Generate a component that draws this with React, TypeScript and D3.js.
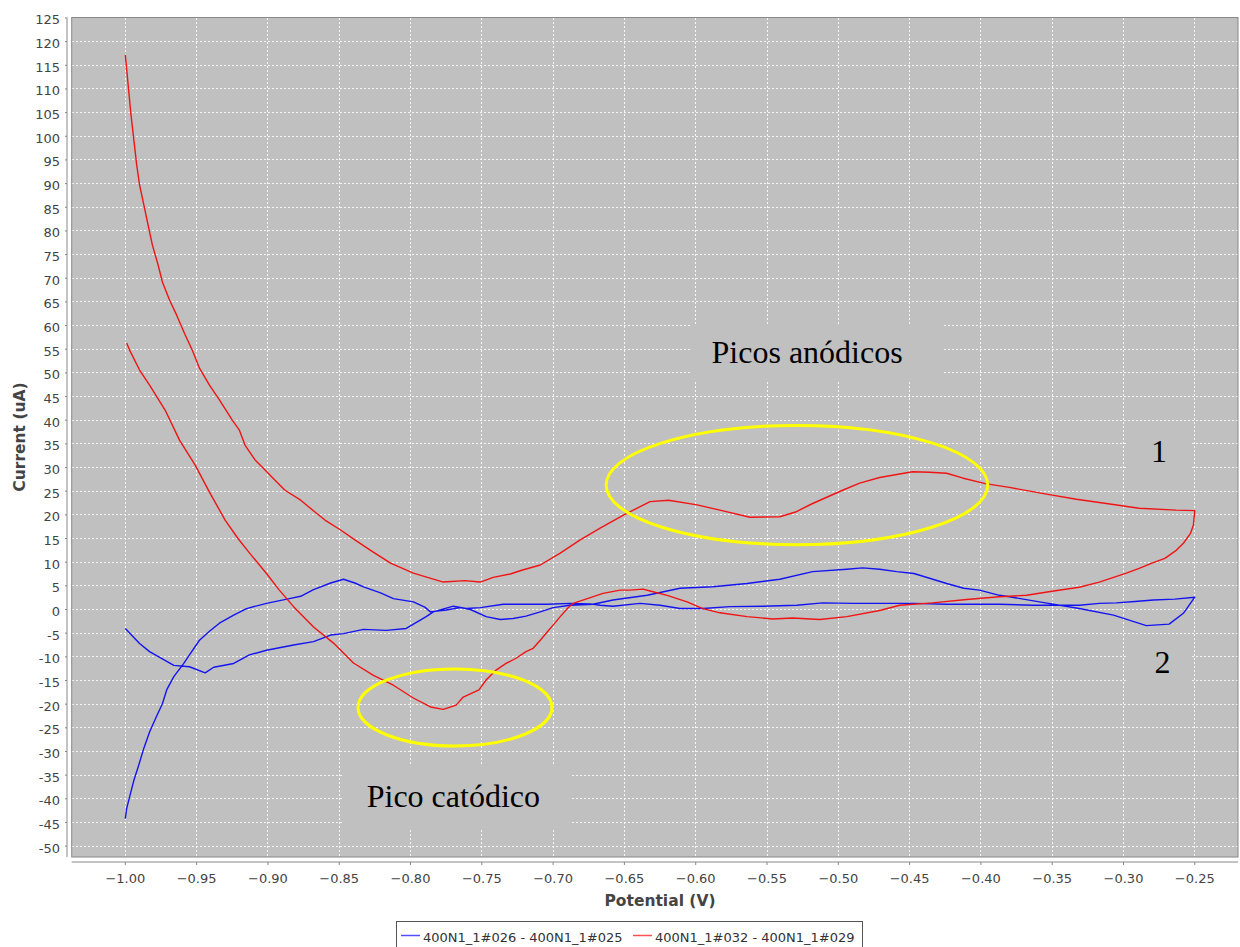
import React, { useRef, useEffect } from 'react';
import * as d3 from 'd3';

type Pt = [number, number]; // [potential V, current uA]

// 400N1_1#032 - 400N1_1#029 (red): forward sweep then return sweep
const redCurve: Pt[] = [
  [-1.000, 117.2], [-0.998, 110.8], [-0.996, 104.5], [-0.994, 99.2], [-0.992, 93.9],
  [-0.990, 89.7], [-0.987, 85.5], [-0.984, 81.2], [-0.981, 77.0], [-0.977, 72.8],
  [-0.974, 69.2], [-0.969, 65.4], [-0.964, 62.2], [-0.958, 58.0], [-0.953, 54.8],
  [-0.948, 51.0], [-0.941, 47.4], [-0.934, 44.3], [-0.925, 40.0], [-0.920, 37.9],
  [-0.916, 34.7], [-0.909, 31.6], [-0.902, 29.5], [-0.895, 27.3], [-0.888, 25.2],
  [-0.877, 23.1], [-0.867, 20.6], [-0.860, 18.9], [-0.849, 16.8], [-0.839, 14.7],
  [-0.828, 12.5], [-0.814, 9.8], [-0.798, 7.7], [-0.777, 5.8], [-0.762, 6.1],
  [-0.751, 5.8], [-0.742, 6.8], [-0.730, 7.5], [-0.722, 8.3], [-0.709, 9.4],
  [-0.695, 11.9], [-0.681, 14.7], [-0.667, 17.2], [-0.651, 19.9], [-0.632, 22.8],
  [-0.619, 23.1], [-0.599, 22.1], [-0.583, 21.0], [-0.562, 19.5], [-0.541, 19.6],
  [-0.530, 20.6], [-0.518, 22.4], [-0.497, 25.2], [-0.485, 26.7], [-0.471, 27.9],
  [-0.448, 29.1], [-0.436, 29.0], [-0.424, 28.8], [-0.413, 27.8], [-0.397, 26.6],
  [-0.380, 25.8], [-0.356, 24.5], [-0.333, 23.3], [-0.312, 22.4], [-0.289, 21.4],
  [-0.263, 21.0], [-0.250, 20.9],
  [-0.251, 17.8], [-0.253, 16.1], [-0.258, 14.0], [-0.263, 12.5], [-0.271, 10.8],
  [-0.280, 9.8], [-0.289, 8.7], [-0.298, 7.7], [-0.317, 5.8], [-0.331, 4.7],
  [-0.349, 3.9], [-0.368, 3.0], [-0.387, 2.7], [-0.410, 2.1], [-0.434, 1.4],
  [-0.457, 0.9], [-0.471, -0.2], [-0.494, -1.5], [-0.513, -2.1], [-0.532, -1.8],
  [-0.546, -2.0], [-0.564, -1.5], [-0.583, -0.7], [-0.595, 0.2], [-0.606, 1.6],
  [-0.620, 3.0], [-0.632, 3.9], [-0.637, 4.3], [-0.646, 4.1], [-0.653, 4.1],
  [-0.665, 3.4], [-0.676, 2.3], [-0.686, 1.3], [-0.690, 0.2], [-0.695, -1.5],
  [-0.700, -3.3], [-0.704, -4.7], [-0.709, -6.5], [-0.714, -8.2], [-0.719, -8.9],
  [-0.726, -10.3], [-0.733, -11.4], [-0.740, -12.8], [-0.747, -14.9], [-0.752, -17.0],
  [-0.763, -18.5], [-0.768, -20.2], [-0.777, -21.1], [-0.786, -20.6], [-0.798, -18.7],
  [-0.812, -16.0], [-0.826, -13.9], [-0.840, -11.3], [-0.854, -7.1], [-0.868, -3.7],
  [-0.882, 0.6], [-0.892, 4.1], [-0.901, 7.6], [-0.912, 11.6], [-0.921, 15.0],
  [-0.930, 18.9], [-0.941, 24.8], [-0.951, 30.5], [-0.962, 35.8], [-0.972, 42.1],
  [-0.983, 47.4], [-0.990, 50.6], [-0.997, 54.8], [-0.999, 56.3],
];

// 400N1_1#026 - 400N1_1#025 (blue)
const blueCurve: Pt[] = [
  [-1.000, -44.2], [-0.999, -42.0], [-0.997, -39.6], [-0.994, -36.1], [-0.991, -33.3],
  [-0.987, -29.3], [-0.983, -25.9], [-0.978, -22.5], [-0.974, -19.9], [-0.971, -17.0],
  [-0.966, -14.2], [-0.959, -11.4], [-0.955, -9.6], [-0.948, -6.5], [-0.941, -4.6],
  [-0.934, -2.9], [-0.924, -1.2], [-0.915, 0.2], [-0.901, 1.3], [-0.885, 2.3],
  [-0.877, 2.8], [-0.868, 4.2], [-0.856, 5.6], [-0.847, 6.4], [-0.839, 5.6],
  [-0.833, 4.8], [-0.821, 3.5], [-0.812, 2.3], [-0.798, 1.6], [-0.790, 0.5],
  [-0.786, -0.5], [-0.775, -0.1], [-0.765, 0.4], [-0.758, 0.0], [-0.747, -1.5],
  [-0.737, -2.1], [-0.728, -1.9], [-0.719, -1.4], [-0.709, -0.5], [-0.700, 0.4],
  [-0.688, 0.9], [-0.672, 1.1], [-0.658, 2.0], [-0.634, 3.0], [-0.611, 4.5],
  [-0.588, 4.8], [-0.564, 5.5], [-0.541, 6.4], [-0.518, 8.0], [-0.494, 8.5],
  [-0.483, 8.8], [-0.471, 8.5], [-0.459, 8.0], [-0.447, 7.6], [-0.436, 6.6],
  [-0.424, 5.5], [-0.412, 4.5], [-0.401, 4.1], [-0.387, 3.0], [-0.380, 2.7],
  [-0.359, 1.6], [-0.331, 0.2], [-0.307, -1.2], [-0.284, -3.4], [-0.268, -3.1],
  [-0.258, -0.8], [-0.250, 2.6],
  [-0.264, 2.2], [-0.279, 2.0], [-0.292, 1.7], [-0.305, 1.4], [-0.317, 1.3],
  [-0.331, 0.9], [-0.363, 0.9], [-0.387, 1.1], [-0.410, 1.1], [-0.424, 1.1],
  [-0.447, 1.3], [-0.471, 1.3], [-0.489, 1.3], [-0.511, 1.4], [-0.529, 0.9],
  [-0.553, 0.7], [-0.576, 0.6], [-0.595, 0.2], [-0.611, 0.2], [-0.625, 0.9],
  [-0.639, 1.3], [-0.658, 0.7], [-0.667, 0.9], [-0.674, 1.2], [-0.688, 1.3],
  [-0.704, 1.1], [-0.719, 1.1], [-0.735, 1.1], [-0.751, 0.4], [-0.761, 0.2],
  [-0.770, 0.7], [-0.784, -0.5], [-0.789, -1.5], [-0.803, -4.0], [-0.817, -4.4],
  [-0.833, -4.2], [-0.847, -5.1], [-0.856, -5.4], [-0.868, -6.8], [-0.882, -7.5],
  [-0.901, -8.6], [-0.913, -9.6], [-0.924, -11.4], [-0.938, -12.2], [-0.944, -13.4],
  [-0.955, -12.1], [-0.966, -11.8], [-0.983, -8.9], [-0.990, -7.2], [-1.000, -4.0],
];

const xTicks = [-1.0, -0.95, -0.9, -0.85, -0.8, -0.75, -0.7, -0.65, -0.6, -0.55, -0.5, -0.45, -0.4, -0.35, -0.3, -0.25];
const yTicks = [
  -50, -45, -40, -35, -30, -25, -20, -15, -10, -5, 0, 5, 10, 15, 20, 25, 30, 35, 40, 45,
  50, 55, 60, 65, 70, 75, 80, 85, 90, 95, 100, 105, 110, 115, 120, 125,
];

const seriesNames = ['400N1_1#026 - 400N1_1#025', '400N1_1#032 - 400N1_1#029'];

// annotations in data units
const ellipses = [
  { cx: -0.529, cy: 26.3, rx: 0.1338, ry: 12.6 },
  { cx: -0.7688, cy: -20.7, rx: 0.068, ry: 8.15 },
];
const labels = [
  { text: 'Picos anódicos', x: -0.5889, y: 52.1, anchor: 'start', box: [-0.604, 60.3, -0.427, 48.5] },
  { text: 'Pico catódico', x: -0.8307, y: -41.7, anchor: 'start', box: [-0.8466, -33.1, -0.6867, -46.6] },
  { text: '1', x: -0.2751, y: 31.2, anchor: 'middle', box: [-0.2969, 37.9, -0.252, 28.2] },
  { text: '2', x: -0.2727, y: -13.5, anchor: 'middle', box: [-0.2969, -6.5, -0.252, -16.6] },
];

const W = 1240;
const H = 947;

const CVChart: React.FC = () => {
  const svgRef = useRef<SVGSVGElement | null>(null);

  useEffect(() => {
    if (!svgRef.current) return;
    const svg = d3.select(svgRef.current);
    svg.selectAll('*').remove();

    const plot = { left: 71.7, top: 17.5, right: 1238, bottom: 857 };

    const x = d3.scaleLinear().domain([-1.0376, -0.2197]).range([plot.left, plot.right]);
    const y = d3.scaleLinear().domain([-52.3, 125.1]).range([plot.bottom, plot.top]);

    svg.append('rect').attr('width', W).attr('height', H).attr('fill', '#ffffff');

    // plot background
    svg.append('rect')
      .attr('x', plot.left).attr('y', plot.top)
      .attr('width', plot.right - plot.left).attr('height', plot.bottom - plot.top)
      .attr('fill', '#c0c0c0');

    // grid
    const grid = svg.append('g')
      .attr('stroke', '#ffffff').attr('stroke-opacity', 0.85)
      .attr('stroke-width', 1).attr('stroke-dasharray', '2,2')
      .attr('shape-rendering', 'crispEdges');
    grid.selectAll('line.v').data(xTicks).join('line')
      .attr('x1', d => x(d)).attr('x2', d => x(d))
      .attr('y1', plot.top).attr('y2', plot.bottom);
    grid.selectAll('line.h').data(yTicks).join('line')
      .attr('class', 'h')
      .attr('x1', plot.left).attr('x2', plot.right)
      .attr('y1', d => y(d)).attr('y2', d => y(d));

    // label boxes hide the grid behind them
    svg.append('g').selectAll('rect').data(labels).join('rect')
      .attr('x', d => x(d.box[0])).attr('y', d => y(d.box[1]))
      .attr('width', d => x(d.box[2]) - x(d.box[0]))
      .attr('height', d => y(d.box[3]) - y(d.box[1]))
      .attr('fill', '#c0c0c0');

    // series
    const line = d3.line<Pt>().x(d => x(d[0])).y(d => y(d[1]));
    svg.append('path').datum(blueCurve)
      .attr('fill', 'none').attr('stroke', '#1414f0').attr('stroke-width', 1.4)
      .attr('stroke-linejoin', 'round').attr('d', line);
    svg.append('path').datum(redCurve)
      .attr('fill', 'none').attr('stroke', '#f01414').attr('stroke-width', 1.4)
      .attr('stroke-linejoin', 'round').attr('d', line);

    // yellow ellipses
    svg.append('g').selectAll('ellipse').data(ellipses).join('ellipse')
      .attr('cx', d => x(d.cx)).attr('cy', d => y(d.cy))
      .attr('rx', d => x(d.cx + d.rx) - x(d.cx))
      .attr('ry', d => y(d.cy - d.ry) - y(d.cy))
      .attr('fill', 'none').attr('stroke', '#ffff00').attr('stroke-width', 3);

    // annotation text
    svg.append('g').selectAll('text').data(labels).join('text')
      .attr('x', d => x(d.x)).attr('y', d => y(d.y))
      .attr('text-anchor', d => d.anchor)
      .attr('font-family', '"Liberation Serif", "Times New Roman", serif')
      .attr('font-size', 32).attr('fill', '#000')
      .text(d => d.text);

    // plot outline
    svg.append('rect')
      .attr('x', plot.left).attr('y', plot.top)
      .attr('width', plot.right - plot.left).attr('height', plot.bottom - plot.top)
      .attr('fill', 'none').attr('stroke', '#888').attr('stroke-width', 1);

    const axisFont = '"DejaVu Sans", Verdana, sans-serif';

    // left axis
    const yAxisX = 67;
    const ya = svg.append('g');
    ya.append('line').attr('x1', yAxisX).attr('x2', yAxisX)
      .attr('y1', plot.top).attr('y2', plot.bottom).attr('stroke', '#888');
    ya.selectAll('line.t').data(yTicks).join('line')
      .attr('class', 't')
      .attr('x1', yAxisX - 2).attr('x2', yAxisX)
      .attr('y1', d => y(d)).attr('y2', d => y(d)).attr('stroke', '#888');
    ya.selectAll('text').data(yTicks).join('text')
      .attr('x', 60).attr('y', d => y(d) + 6.5)
      .attr('text-anchor', 'end').attr('font-family', axisFont)
      .attr('font-size', 13).attr('fill', '#444')
      .text(d => String(d));

    // bottom axis
    const xAxisY = 862;
    const xa = svg.append('g');
    xa.append('line').attr('x1', plot.left).attr('x2', plot.right)
      .attr('y1', xAxisY).attr('y2', xAxisY).attr('stroke', '#888');
    xa.selectAll('line.t').data(xTicks).join('line')
      .attr('class', 't')
      .attr('x1', d => x(d)).attr('x2', d => x(d))
      .attr('y1', xAxisY).attr('y2', xAxisY + 3).attr('stroke', '#888');
    xa.selectAll('text').data(xTicks).join('text')
      .attr('x', d => x(d)).attr('y', 883)
      .attr('text-anchor', 'middle').attr('font-family', axisFont)
      .attr('font-size', 13).attr('fill', '#444')
      .text(d => d3.format('.2f')(d));

    // axis titles
    svg.append('text')
      .attr('x', 660).attr('y', 906)
      .attr('text-anchor', 'middle').attr('font-family', axisFont)
      .attr('font-weight', 'bold').attr('font-size', 15.5).attr('fill', '#444')
      .text('Potential (V)');
    svg.append('text')
      .attr('transform', 'translate(25,437) rotate(-90)')
      .attr('text-anchor', 'middle').attr('font-family', axisFont)
      .attr('font-weight', 'bold').attr('font-size', 15.5).attr('fill', '#444')
      .text('Current (uA)');

    // legend
    const lg = svg.append('g');
    lg.append('rect')
      .attr('x', 396.5).attr('y', 921.5).attr('width', 466).attr('height', 40)
      .attr('fill', '#fff').attr('stroke', '#555');
    const legendItems = [
      { name: seriesNames[0], color: '#5050ff', x0: 401 },
      { name: seriesNames[1], color: '#ff5050', x0: 633 },
    ];
    legendItems.forEach(it => {
      lg.append('line')
        .attr('x1', it.x0).attr('x2', it.x0 + 19)
        .attr('y1', 935.5).attr('y2', 935.5)
        .attr('stroke', it.color).attr('stroke-width', 1.5);
      lg.append('text')
        .attr('x', it.x0 + 22).attr('y', 941.5)
        .attr('font-family', axisFont).attr('font-size', 13).attr('fill', '#333')
        .text(it.name);
    });
  }, []);

  return (
    <svg ref={svgRef} width={W} height={H}
      style={{ position: 'absolute', left: 0, top: 0, display: 'block' }} />
  );
};

export default function App() {
  return <CVChart />;
}
